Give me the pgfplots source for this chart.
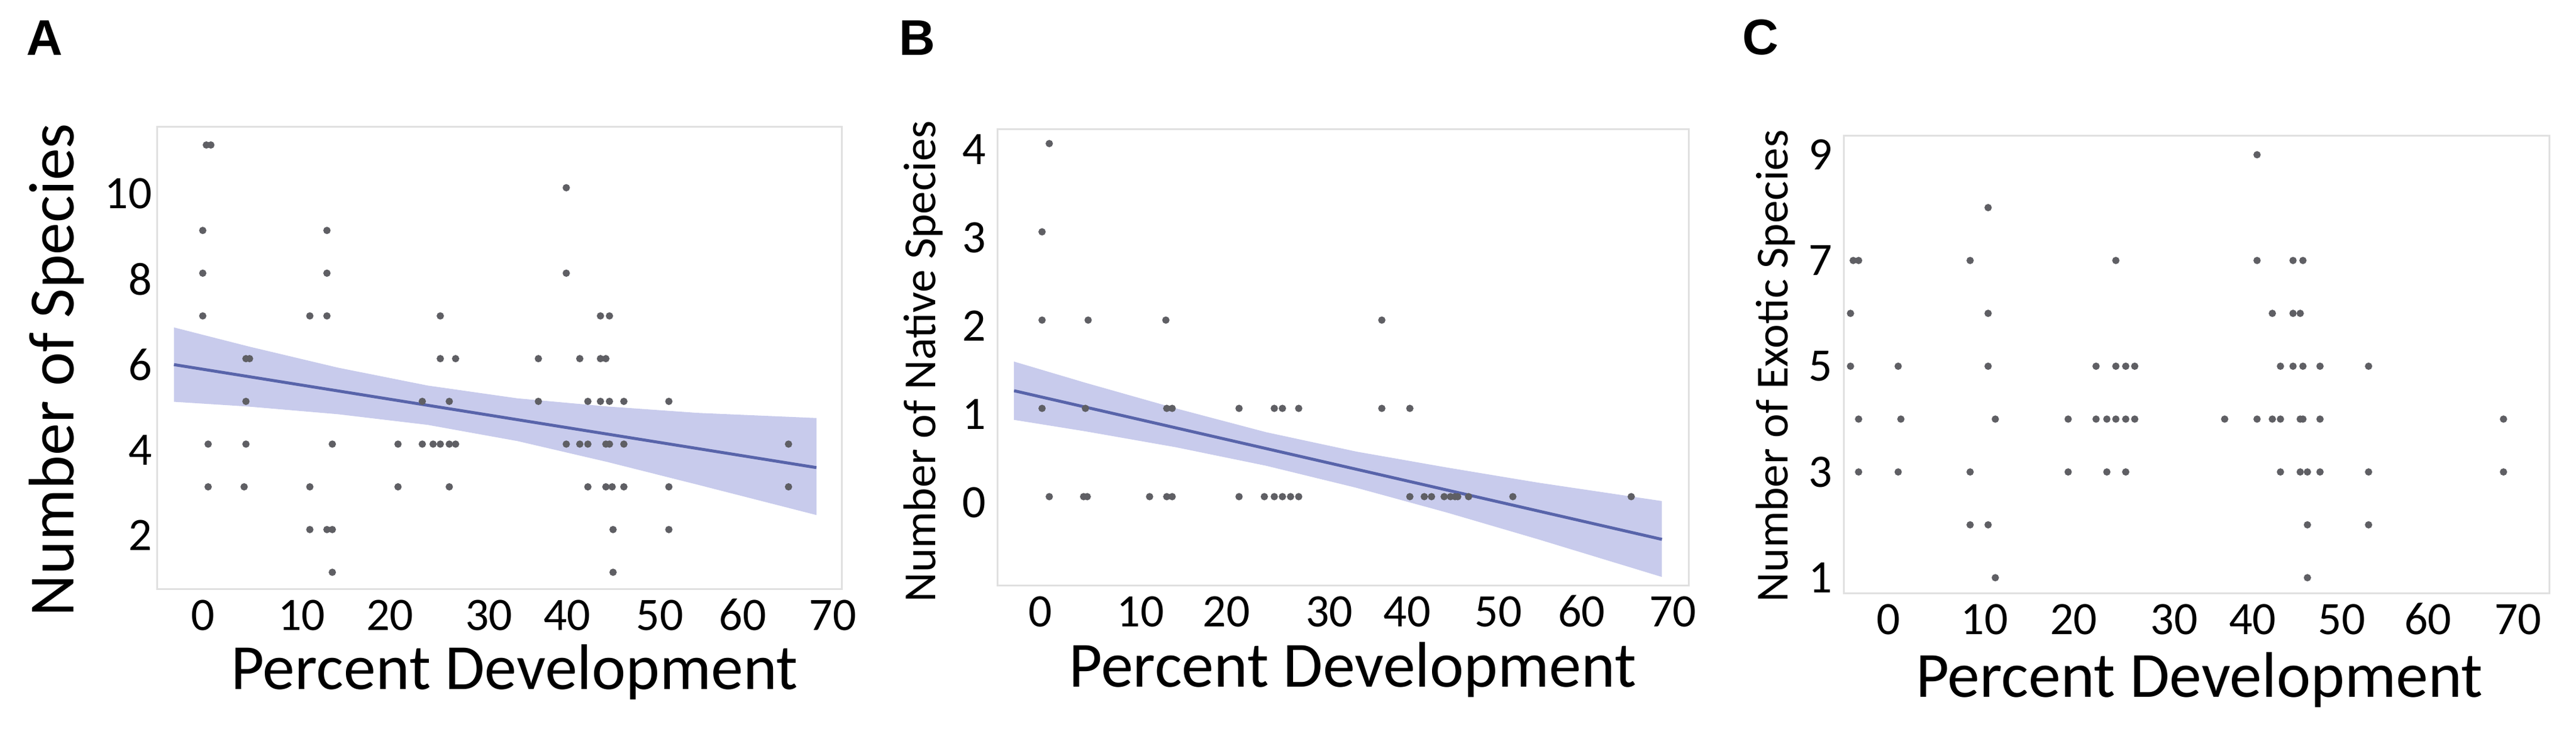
\documentclass[border=0pt]{standalone}
\usepackage{fontspec}
\setmainfont{Carlito}
\newfontfamily\lsans{Liberation Sans}
\usepackage{pgfplots}
\pgfplotsset{compat=1.18}
\definecolor{bandc}{RGB}{200,203,236}
\definecolor{linec}{RGB}{88,100,170}
\definecolor{ptc}{RGB}{95,95,100}
\pgfplotsset{
  panel/.style={
    scale only axis, anchor=south west, clip=false,
    axis line style={draw=black!12, line width=0.3pt},
    major tick length=0pt,
    /pgf/number format/assume math mode=true,
    tick label style={font=\fontsize{7.8}{8}\selectfont, inner sep=0pt},
    xticklabel style={anchor=base, yshift=-6.9pt},
    xticklabels={0,10,20,30,40,50,60,70},
    label style={font=\fontsize{10.8}{12}\selectfont},
    xlabel={Percent Development},
  },
  pts/.style={only marks, mark=*, mark size=0.4pt, color=ptc},
}
\begin{document}
\begin{tikzpicture}
\path[use as bounding box] (0,0) rectangle (431.9pt,122.2pt);
% ---------------- Panel A
\begin{axis}[panel, at={(26.3pt,23.4pt)}, width=114.9pt, height=77.5pt,
  xmin=-5.1, xmax=71.06, ymin=0.6, ymax=11.42,
  xtick={0,11.0,20.8,31.8,40.5,50.8,60.0,70},
  ytick={2,4,6,8,10}, yticklabels={2,4,6,8,10},
  yticklabel style={anchor=east, xshift=-0.6pt, yshift=-1pt},
  xlabel style={at={(axis description cs:0.5218,-0.2168)}, anchor=base},
  ylabel={Number of Species},
  ylabel style={at={(axis description cs:-0.1218,0.4748)}, anchor=base}]
\addplot[fill=bandc, draw=none] coordinates {
 (-3.2,6.73) (5,6.29) (15,5.79) (25,5.37) (35,5.07) (45,4.88) (55,4.73) (68.2,4.61)
 (68.2,2.34) (55,3.05) (45,3.58) (35,4.07) (25,4.45) (15,4.70) (5,4.88) (-3.2,4.99)} -- cycle;
\addplot[pts] coordinates {
 (0.4,11) (0.9,11) (0,9) (0,8) (0,7) (0.6,4) (0.6,3)
 (4.8,6) (5.2,6) (4.8,5) (4.8,4) (4.6,3)
 (11.9,7) (13.8,7) (13.8,9) (13.8,8) (11.9,3) (11.9,2) (13.8,2) (14.4,2) (14.4,4) (14.4,1)
 (21.7,4) (21.7,3)
 (24.4,5) (24.4,4) (25.6,4) (26.4,4) (27.4,4) (28.1,4)
 (26.4,7) (26.4,6) (28.1,6) (27.4,5) (27.4,3)
 (37.3,6) (37.3,5)
 (40.4,10) (40.4,8) (40.4,4)
 (41.9,6) (41.9,4) (42.8,4) (42.8,5) (42.8,3)
 (44.2,7) (45.2,7) (44.2,6) (44.8,6) (44.2,5) (45.2,5) (44.8,4) (45.2,4) (44.8,3) (45.5,3) (45.6,2) (45.6,1)
 (46.8,5) (46.8,4) (46.8,3)
 (51.8,5) (51.8,3) (51.8,2)
 (65.1,4) (65.1,3)};
\addplot[linec, line width=0.5pt] coordinates {(-3.2,5.86) (68.2,3.45)};
\end{axis}
% ---------------- Panel B
\begin{axis}[panel, at={(167.2pt,24.0pt)}, width=115.9pt, height=76.5pt,
  xmin=-4.76, xmax=71.74, ymin=-1.01, ymax=4.16,
  xtick={0,11.1,20.6,32.0,40.6,50.7,59.9,70},
  ytick={0,1,2,3,4}, yticklabels={0,1,2,3,4},
  yticklabel style={anchor=east, xshift=-1.7pt, yshift=-1pt},
  xlabel style={at={(axis description cs:0.514,-0.222)}, anchor=base},
  ylabel={Number of Native Species},
  ylabel style={at={(axis description cs:-0.0897,0.4915)}, anchor=base, font=\fontsize{7.7}{9}\selectfont}]
\addplot[fill=bandc, draw=none] coordinates {
 (-2.9,1.53) (5,1.29) (15,1.00) (25,0.73) (35,0.51) (45,0.33) (55,0.16) (68.8,-0.05)
 (68.8,-0.91) (55,-0.48) (45,-0.18) (35,0.10) (25,0.35) (15,0.56) (5,0.74) (-2.9,0.87)} -- cycle;
\addplot[pts] coordinates {
 (1.0,4) (0.2,3)
 (0.2,2) (5.3,2) (13.9,2) (37.8,2)
 (0.2,1) (5.0,1) (14.0,1) (14.6,1) (22.0,1) (25.9,1) (26.8,1) (28.6,1) (37.8,1) (40.9,1)
 (1.0,0) (4.8,0) (5.2,0) (12.1,0) (14.0,0) (14.6,0) (22.0,0) (24.8,0) (25.9,0) (26.8,0) (27.7,0) (28.6,0)
 (40.9,0) (42.5,0) (43.3,0) (44.7,0) (45.4,0) (45.9,0) (46.2,0) (47.4,0) (52.3,0) (65.4,0)};
\addplot[linec, line width=0.5pt] coordinates {(-2.9,1.2) (68.8,-0.484)};
\end{axis}
% ---------------- Panel C
\begin{axis}[panel, at={(309.1pt,22.7pt)}, width=118.4pt, height=76.7pt,
  xmin=-4.97, xmax=73.54, ymin=0.70, ymax=9.355,
  xtick={0,10.7,20.6,31.8,40.5,50.4,60.0,70},
  ytick={1,3,5,7,9}, yticklabels={1,3,5,7,9},
  yticklabel style={anchor=east, xshift=-1.65pt},
  xlabel style={at={(axis description cs:0.5038,-0.2256)}, anchor=base},
  ylabel={Number of Exotic Species},
  ylabel style={at={(axis description cs:-0.0794,0.4974)}, anchor=base, font=\fontsize{7.7}{9}\selectfont}]
\addplot[pts] coordinates {
 (-3.9,7) (-3.3,7) (-4.2,6) (-4.2,5) (-3.3,4) (-3.3,3)
 (1.1,5) (1.4,4) (1.1,3)
 (9.1,7) (9.1,3) (9.1,2) (11.1,8) (11.1,6) (11.1,5) (11.1,2) (11.9,4) (11.9,1)
 (20.0,4) (20.0,3)
 (23.1,5) (23.1,4) (24.3,4) (25.3,4) (26.4,4) (27.4,4) (24.3,3) (26.4,3)
 (25.3,7) (25.3,5) (26.4,5) (27.4,5)
 (37.4,4)
 (41.0,9) (41.0,7) (41.0,4)
 (42.7,6) (42.7,4) (43.6,4) (43.6,5) (43.6,3)
 (45.0,7) (46.1,7) (45.0,6) (45.8,6) (45.0,5) (46.1,5) (45.8,4) (46.1,4) (45.8,3) (46.6,3) (46.6,2) (46.6,1)
 (48.0,5) (48.0,4) (48.0,3)
 (53.4,5) (53.4,3) (53.4,2)
 (68.4,4) (68.4,3)};
\end{axis}
% panel letters
\node[anchor=base west, inner sep=0pt, font=\lsans\bfseries\fontsize{8.4}{10}\selectfont] at (4.2pt,112.9pt) {A};
\node[anchor=base west, inner sep=0pt, font=\lsans\bfseries\fontsize{8.4}{10}\selectfont] at (150.5pt,112.9pt) {B};
\node[anchor=base west, inner sep=0pt, font=\lsans\bfseries\fontsize{8.4}{10}\selectfont] at (291.9pt,113.0pt) {C};
\end{tikzpicture}
\end{document}
